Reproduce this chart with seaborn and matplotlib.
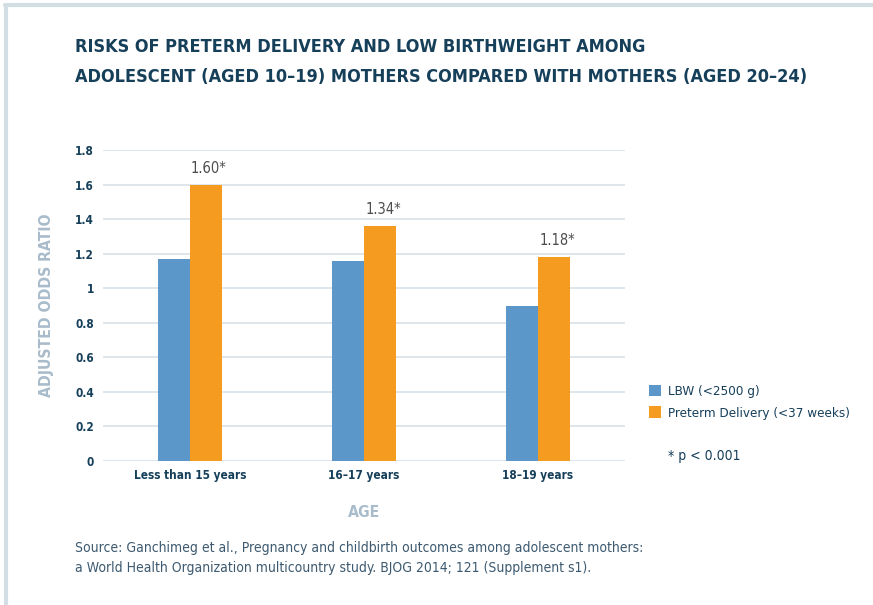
import matplotlib
matplotlib.use("Agg")
import matplotlib.pyplot as plt
from matplotlib import font_manager as fm
from matplotlib.lines import Line2D
from matplotlib.patches import Patch
import seaborn as sns
import pandas as pd

# data
age_groups = ["Less than 15 years", "16\u201317 years", "18\u201319 years"]
lbw = [1.17, 1.16, 0.90]
preterm = [1.60, 1.36, 1.18]
preterm_labels = ["1.60*", "1.34*", "1.18*"]
series_names = ["LBW (<2500 g)", "Preterm Delivery (<37 weeks)"]
yticks = [0, 0.2, 0.4, 0.6, 0.8, 1, 1.2, 1.4, 1.6, 1.8]

df = pd.DataFrame({
    "age": age_groups * 2,
    "series": [series_names[0]] * 3 + [series_names[1]] * 3,
    "value": lbw + preterm,
})

# look for a condensed face, otherwise Roboto
cond = [f for f in fm.fontManager.ttflist
        if "Narrow" in f.name or "Condensed" in f.name or f.stretch in ("condensed", "semi-condensed")]
if cond:
    fam, stretch = cond[0].name, cond[0].stretch
else:
    fam, stretch = "Roboto", "normal"

sns.set_theme(style="white")
plt.rcParams["font.family"] = [fam, "DejaVu Sans"]
plt.rcParams["font.stretch"] = stretch

navy = "#163f5a"
pale = "#a9bccb"
grid_c = "#d8e2e9"
colors = ["#5b97c9", "#f59c20"]

fig = plt.figure(figsize=(8.73, 6.05), dpi=100)
ax = fig.add_axes([0.118, 0.238, 0.598, 0.514])

sns.barplot(data=df, x="age", y="value", hue="series", order=age_groups,
            hue_order=series_names, palette=colors, width=0.37,
            saturation=1, linewidth=0, legend=False, ax=ax)

ax.set_ylim(0, 1.8)
ax.set_xlim(-0.5, 2.5)
ax.set_yticks(yticks)
ax.set_yticklabels([f"{t:g}" for t in yticks], fontsize=8.5, fontweight="bold", color=navy)
ax.set_xticks(range(3))
ax.set_xticklabels(age_groups, fontsize=8.5, fontweight="bold", color=navy)
ax.tick_params(axis="y", length=0, pad=6.5)
ax.tick_params(axis="x", length=0, pad=6)
ax.set_axisbelow(True)
ax.yaxis.grid(True, color=grid_c, linewidth=1.2)
for s in ax.spines.values():
    s.set_visible(False)

ax.set_ylabel("ADJUSTED ODDS RATIO", fontsize=11.3, fontweight="bold", color=pale, labelpad=15)
ax.set_xlabel("AGE", fontsize=11.3, fontweight="bold", color=pale, labelpad=16)

# value labels above the preterm bars
for i, (v, lab) in enumerate(zip(preterm, preterm_labels)):
    ax.annotate(lab, (i + 0.0925, v), xytext=(2, 6.5), textcoords="offset points",
                ha="center", va="bottom", fontsize=10.5, color="#4d4d4d")

# legend
handles = [Patch(facecolor=c, edgecolor="none") for c in colors]
leg = fig.legend(handles, series_names, loc="upper left", bbox_to_anchor=(0.730, 0.384),
                 frameon=False, fontsize=9.6, handlelength=0.9, handleheight=0.9,
                 handletextpad=0.5, labelspacing=0.65)
for t in leg.get_texts():
    t.set_color(navy)
fig.text(0.765, 0.246, "* p < 0.001", fontsize=10, color=navy, va="center")

# title
fig.text(0.086, 0.922, "RISKS OF PRETERM DELIVERY AND LOW BIRTHWEIGHT AMONG",
         fontsize=13, fontweight="bold", color=navy, va="center")
fig.text(0.086, 0.872, "ADOLESCENT (AGED 10\u201319) MOTHERS COMPARED WITH MOTHERS (AGED 20\u201324)",
         fontsize=13, fontweight="bold", color=navy, va="center")

# source
fig.text(0.086, 0.094, "Source: Ganchimeg et al., Pregnancy and childbirth outcomes among adolescent mothers:",
         fontsize=10, color="#3d5a70", va="center")
fig.text(0.086, 0.061, "a World Health Organization multicountry study. BJOG 2014; 121 (Supplement s1).",
         fontsize=10, color="#3d5a70", va="center")

# light frame at top and left
fig.add_artist(Line2D([0.006, 1], [0.992, 0.992], transform=fig.transFigure, color="#d3dde4", linewidth=3))
fig.add_artist(Line2D([0.007, 0.007], [0, 0.992], transform=fig.transFigure, color="#d3dde4", linewidth=3))

fig.savefig("out.png", dpi=100)
